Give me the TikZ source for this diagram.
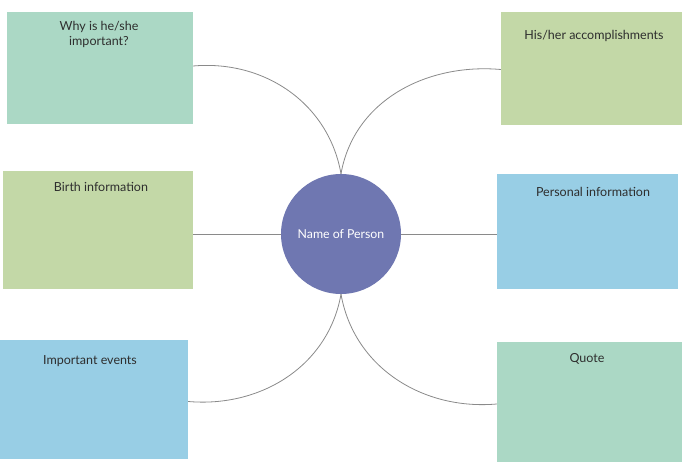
\documentclass[tikz,border=0pt]{standalone}
\usepackage{fontspec}
\setmainfont{Lato}
\usetikzlibrary{positioning}

\definecolor{boxteal}{HTML}{ABD8C5}
\definecolor{boxgreen}{HTML}{C3D8A7}
\definecolor{boxblue}{HTML}{98CEE5}
\definecolor{personblue}{HTML}{6F77B1}
\definecolor{linkgray}{HTML}{8A8A8A}
\definecolor{textgray}{HTML}{2E2E2E}

\tikzset{
    infobox/.style = {rectangle, draw=none, inner sep=0pt},
    boxtext/.style = {text=textgray, font=\fontsize{12.5}{15}\selectfont, align=center, inner sep=0pt},
    link/.style = {draw=linkgray, line width=0.8pt},
}

\begin{document}
\begin{tikzpicture}[x=1pt, y=1pt]
    \useasboundingbox (0,0) rectangle (691,473);

    % center
    \node [circle, fill=personblue, minimum size=120pt, inner sep=0pt,
           text=white, font=\fontsize{12.3}{14}\selectfont] (circ) at (341,239) {Name of Person};

    % boxes
    \node [infobox, fill=boxteal, minimum width=186pt, minimum height=112pt] (why) at (100,405) {};
    \node [infobox, fill=boxgreen, minimum width=190pt, minimum height=118pt] (birth) at (98,243) {};
    \node [infobox, fill=boxblue, minimum width=188pt, minimum height=119pt] (events) at (94,73.5) {};
    \node [infobox, fill=boxgreen, minimum width=181pt, minimum height=113pt] (accomp) at (591.5,404.5) {};
    \node [infobox, fill=boxblue, minimum width=181pt, minimum height=115pt] (personal) at (587.5,241.5) {};
    \node [infobox, fill=boxteal, minimum width=185pt, minimum height=120pt] (quote) at (589.5,71) {};

    % box titles
    \node [boxtext, anchor=north] (whyT) at ([xshift=-1pt,yshift=-9pt]why.north) {Why is he/she\\important?};
    \node [boxtext] (birthT) at ([xshift=3pt,yshift=-16pt]birth.north) {Birth information};
    \node [boxtext] (eventsT) at ([xshift=-4pt,yshift=-21pt]events.north) {Important events};
    \node [boxtext] (accompT) at ([xshift=2.5pt,yshift=-24pt]accomp.north) {His/her accomplishments};
    \node [boxtext] (personalT) at ([xshift=5.5pt,yshift=-18pt]personal.north) {Personal information};
    \node [boxtext] (quoteT) at ([xshift=-2.5pt,yshift=-17pt]quote.north) {Quote};

    % links
    \draw [link] ([yshift=2pt]why.east) to[out=5, in=100] (circ.north);
    \draw [link] ([yshift=-1pt]accomp.west) to[out=175, in=80] (circ.north);
    \draw [link] (circ.west) -- (circ.west -| birth.east);
    \draw [link] (circ.east) -- (circ.east -| personal.west);
    \draw [link] ([yshift=-2pt]events.east) to[out=-5, in=-100] (circ.south);
    \draw [link] ([yshift=-2pt]quote.west) to[out=185, in=-80] (circ.south);
\end{tikzpicture}
\end{document}
